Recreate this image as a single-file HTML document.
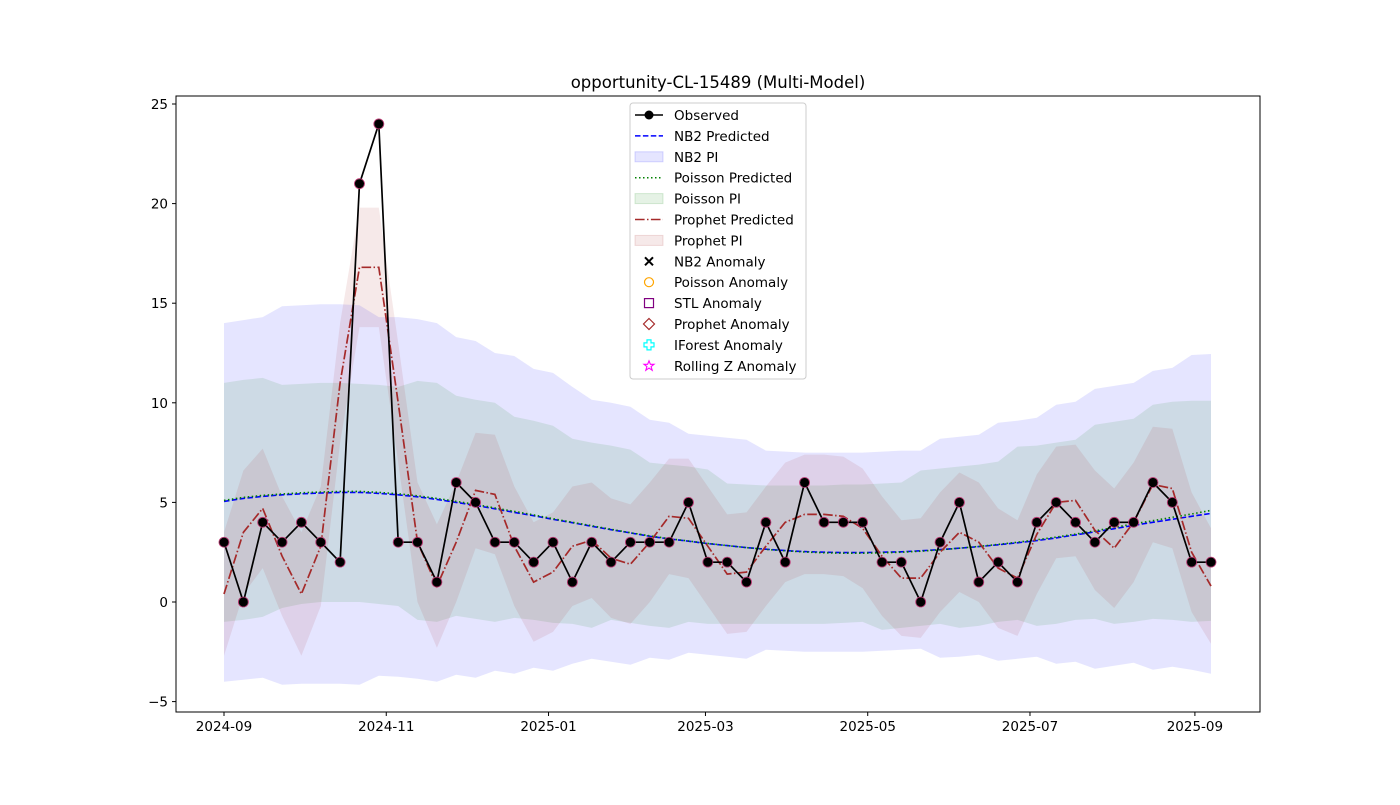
<!DOCTYPE html>
<html><head><meta charset="utf-8"><style>
body{margin:0;background:#fff;font-family:"Liberation Sans","DejaVu Sans",sans-serif}
svg text{font-family:"DejaVu Sans","Liberation Sans",sans-serif}
</style></head><body>
<svg id="chart" width="1400" height="800">
<rect width="1400" height="800" fill="#fff"/>
<g id="plot"></g>
</svg>
<script>
const dates=["2024-09","2024-11","2025-01","2025-03","2025-05","2025-07","2025-09"];
const dateDays=[0,61,122,181,242,303,365];
const yTicks=[-5,0,5,10,15,20,25];
const observed=[3,0,4,3,4,3,2,21,24,3,3,1,6,5,3,3,2,3,1,3,2,3,3,3,5,2,2,1,4,2,6,4,4,4,2,2,0,3,5,1,2,1,4,5,4,3,4,4,6,5,2,2];
const nb2Pred=[5.05,5.2,5.3,5.38,5.43,5.47,5.5,5.5,5.45,5.38,5.28,5.15,5.0,4.85,4.68,4.5,4.33,4.15,3.98,3.8,3.63,3.47,3.3,3.17,3.05,2.93,2.83,2.73,2.65,2.58,2.53,2.5,2.48,2.48,2.5,2.52,2.57,2.63,2.7,2.78,2.87,2.97,3.08,3.22,3.37,3.52,3.68,3.85,4.0,4.15,4.3,4.45];
const poisPred=[5.1,5.25,5.35,5.42,5.48,5.52,5.55,5.55,5.5,5.43,5.33,5.2,5.05,4.9,4.72,4.55,4.37,4.18,4.0,3.83,3.65,3.48,3.32,3.18,3.06,2.94,2.83,2.73,2.64,2.57,2.51,2.47,2.45,2.45,2.47,2.5,2.55,2.62,2.7,2.79,2.89,3.0,3.12,3.26,3.41,3.57,3.74,3.92,4.08,4.25,4.42,4.6];
const nb2Up=[14.0,14.15,14.3,14.85,14.9,14.95,14.95,14.9,14.3,14.3,14.2,14.0,13.3,13.1,12.5,12.35,11.7,11.5,10.8,10.15,10.0,9.8,9.15,9.0,8.45,8.35,8.25,8.15,7.6,7.55,7.5,7.5,7.5,7.5,7.55,7.6,7.6,8.2,8.3,8.4,9.0,9.1,9.25,9.9,10.05,10.7,10.85,11.0,11.6,11.75,12.4,12.45];
const nb2Lo=[-4,-3.9,-3.8,-4.15,-4.1,-4.1,-4.1,-4.15,-3.7,-3.75,-3.85,-4.0,-3.65,-3.8,-3.45,-3.6,-3.3,-3.45,-3.1,-2.85,-3.0,-3.15,-2.8,-2.9,-2.55,-2.65,-2.75,-2.85,-2.4,-2.45,-2.5,-2.5,-2.5,-2.5,-2.45,-2.4,-2.35,-2.8,-2.75,-2.65,-2.95,-2.85,-2.75,-3.1,-3.0,-3.35,-3.2,-3.05,-3.4,-3.25,-3.4,-3.6];
const poisUp=[11,11.15,11.25,10.9,10.95,11,11,10.95,10.9,10.8,11.1,11.0,10.35,10.15,10.0,9.3,9.1,8.85,8.2,8.0,7.85,7.65,7.0,6.9,6.8,6.65,5.95,5.9,5.85,5.85,5.85,5.85,5.9,5.9,5.95,6.0,6.6,6.7,6.8,6.9,7.05,7.8,7.85,8.0,8.15,8.9,9.05,9.2,9.9,10.05,10.1,10.1];
const poisLo=[-1,-0.9,-0.75,-0.3,-0.1,0,0,0,-0.1,-0.2,-0.9,-1.0,-0.7,-0.85,-1.0,-0.8,-0.9,-1.05,-1.1,-1.3,-0.9,-1.05,-1.2,-1.3,-1.0,-1.1,-1.1,-1.1,-1.1,-1.1,-1.1,-1.1,-1.05,-1.0,-1.4,-1.3,-1.2,-1.1,-1.3,-1.2,-1.0,-0.9,-1.2,-1.1,-0.9,-0.85,-1.1,-1.0,-0.85,-0.9,-1.0,-0.95];
const prophPred=[0.4,3.5,4.7,2.3,0.4,2.8,11,16.8,16.8,10,3,0.8,3,5.6,5.4,2.8,1.0,1.5,2.8,3.1,2.2,1.9,3.0,4.3,4.2,2.8,1.4,1.5,2.8,4,4.4,4.4,4.3,3.7,2.3,1.2,1.2,2.5,3.5,3.0,1.7,1.2,3.4,5,5.1,3.6,2.7,4.0,5.9,5.7,2.5,0.8];
const prophHalf=[3.1,3.1,3.0,3.0,3.1,3.0,3.0,3.0,3.0,3.0,3.0,3.1,3.0,2.9,3.0,3.0,3.0,3.0,3.0,2.9,3.0,3.0,3.0,2.9,3.0,3.0,3.0,3.0,3.0,3.0,3.0,3.0,3.0,3.0,3.0,2.9,3.0,3.0,3.0,3.0,3.0,2.9,3.0,2.8,2.8,3.0,3.0,3.0,2.9,3.0,3.0,2.9];

const NS="http://www.w3.org/2000/svg";
const g=document.getElementById('plot');
const L=176,R=1260,T=96,B=712;
const y=v=>602-v*19.92;
const dx=d=>224+d*2.660;
const n=observed.length;
const xi=i=>224+i*(1211-224)/(n-1);
function el(t,a,p){const e=document.createElementNS(NS,t);for(const k in a)e.setAttribute(k,a[k]);(p||g).appendChild(e);return e;}
function line(arr){return arr.map((v,i)=>(i?'L':'M')+xi(i).toFixed(1)+','+y(v).toFixed(1)).join('');}
function band(up,lo){let d=line(up);for(let i=lo.length-1;i>=0;i--)d+='L'+xi(i).toFixed(1)+','+y(lo[i]).toFixed(1);return d+'Z';}
let e;
e=el('path',{d:band(nb2Up,nb2Lo),fill:'rgba(0,0,255,0.1)'});

e=el('path',{d:band(poisUp,poisLo),fill:'rgba(0,128,0,0.1)'});

const pu=prophPred.map((v,i)=>v+prophHalf[i]),pl=prophPred.map((v,i)=>v-prophHalf[i]);
e=el('path',{d:band(pu,pl),fill:'rgba(165,42,42,0.1)'});

e=el('path',{d:line(nb2Pred),fill:'none',stroke:'#0000ff','stroke-width':1.6,'stroke-dasharray':'5.5,2.4'});

e=el('path',{d:line(poisPred),fill:'none',stroke:'#008000','stroke-width':1.6,'stroke-dasharray':'1.5,2.5'});

e=el('path',{d:line(prophPred),fill:'none',stroke:'#a52a2a','stroke-width':1.7,'stroke-dasharray':'9.6,2.4,1.5,2.4'});

e=el('path',{d:line(observed),fill:'none',stroke:'#000','stroke-width':1.7});

observed.forEach((v,i)=>{
 const c=el('circle',{cx:xi(i),cy:y(v),r:5,fill:'none',stroke:'#c03070','stroke-width':0.8});
 
 
 const p=el('circle',{cx:xi(i),cy:y(v),r:4.6,fill:'#000'});
 
 
});
e=el('rect',{x:L,y:T,width:R-L,height:B-T,fill:'none',stroke:'#000','stroke-width':1});

yTicks.forEach(v=>{
 el('line',{x1:L-4,x2:L,y1:y(v),y2:y(v),stroke:'#000'});
 const t=el('text',{x:L-8,y:y(v)+5,'text-anchor':'end','font-size':13.5});
 t.textContent=v<0?'\u2212'+(-v):v;
 
 
});
dates.forEach((d,i)=>{
 const X=dx(dateDays[i]);
 el('line',{x1:X,x2:X,y1:B,y2:B+4,stroke:'#000'});
 const t=el('text',{x:X,y:B+19,'text-anchor':'middle','font-size':13.5});
 t.textContent=d;
 
 
});
e=el('text',{x:718,y:88,'text-anchor':'middle','font-size':16.5});
e.textContent='opportunity-CL-15489 (Multi-Model)';

const lg=el('g',{});

el('rect',{x:630,y:103,width:176,height:276,rx:3,fill:'rgba(255,255,255,0.8)',stroke:'#ccc'},lg);
const items=[['Observed','obs'],['NB2 Predicted','nb2'],['NB2 PI','nb2pi'],['Poisson Predicted','pois'],['Poisson PI','poispi'],['Prophet Predicted','proph'],['Prophet PI','prophpi'],['NB2 Anomaly','x'],['Poisson Anomaly','o'],['STL Anomaly','sq'],['Prophet Anomaly','dia'],['IForest Anomaly','plus'],['Rolling Z Anomaly','star']];
items.forEach((it,i)=>{
 const Y=115+i*20.9, g2=el('g',{},lg);
 
 
 const k=it[1];
 if(k==='obs'){el('line',{x1:635,x2:663,y1:Y,y2:Y,stroke:'#000','stroke-width':1.5},g2);el('circle',{cx:649,cy:Y,r:4.5,fill:'#000'},g2);}
 else if(k==='nb2')el('line',{x1:635,x2:663,y1:Y,y2:Y,stroke:'#00f','stroke-width':1.5,'stroke-dasharray':'5.5,2.4'},g2);
 else if(k==='pois')el('line',{x1:635,x2:663,y1:Y,y2:Y,stroke:'#008000','stroke-width':1.5,'stroke-dasharray':'1.5,2.5'},g2);
 else if(k==='proph')el('line',{x1:635,x2:663,y1:Y,y2:Y,stroke:'#a52a2a','stroke-width':1.5,'stroke-dasharray':'9.6,2.4,1.5,2.4'},g2);
 else if(k==='nb2pi')el('rect',{x:635,y:Y-5,width:28,height:10,fill:'rgba(0,0,255,0.1)',stroke:'rgba(0,0,255,0.15)'},g2);
 else if(k==='poispi')el('rect',{x:635,y:Y-5,width:28,height:10,fill:'rgba(0,128,0,0.1)',stroke:'rgba(0,128,0,0.15)'},g2);
 else if(k==='prophpi')el('rect',{x:635,y:Y-5,width:28,height:10,fill:'rgba(165,42,42,0.1)',stroke:'rgba(165,42,42,0.15)'},g2);
 else if(k==='x'){el('path',{d:`M645,${Y-4}L653,${Y+4}M645,${Y+4}L653,${Y-4}`,stroke:'#000','stroke-width':2},g2);}
 else if(k==='o')el('circle',{cx:649,cy:Y,r:4.5,fill:'none',stroke:'orange','stroke-width':1.2},g2);
 else if(k==='sq')el('rect',{x:644.5,y:Y-4.5,width:9,height:9,fill:'none',stroke:'purple','stroke-width':1.2},g2);
 else if(k==='dia')el('path',{d:`M649,${Y-5.5}L654.5,${Y}L649,${Y+5.5}L643.5,${Y}Z`,fill:'none',stroke:'#a52a2a','stroke-width':1.2},g2);
 else if(k==='plus')el('path',{d:`M647,${Y-5}h4v3h3v4h-3v3h-4v-3h-3v-4h3z`,fill:'none',stroke:'cyan','stroke-width':1.2},g2);
 else if(k==='star')el('path',{d:`M649,${Y-5}L650.4,${Y-1.5}L654,${Y-1.5}L651.1,${Y+0.8}L652.2,${Y+4.5}L649,${Y+2.3}L645.8,${Y+4.5}L646.9,${Y+0.8}L644,${Y-1.5}L647.6,${Y-1.5}Z`,fill:'none',stroke:'magenta','stroke-width':1.1},g2);
 const t=el('text',{x:674,y:Y+5,'font-size':13.5},g2);
 t.textContent=it[0];
});
</script>
</body></html>
